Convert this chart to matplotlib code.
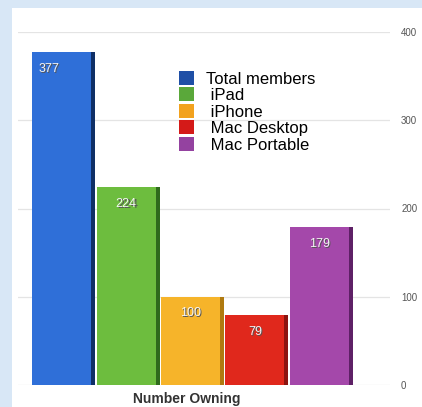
import matplotlib.pyplot as plt
from matplotlib.patches import Patch

plt.rcParams["font.family"] = ["Liberation Sans", "DejaVu Sans"]

# Datos
categories = ["Total members", "iPad", "iPhone", "Mac Desktop", "Mac Portable"]
values = [377, 224, 100, 79, 179]
yticks = [0, 100, 200, 300, 400]

face = ["#2f6fd8", "#6dbd3e", "#f6b42a", "#e0281c", "#a448aa"]
side = ["#0f2f66", "#2f6a1c", "#b07a10", "#8c1410", "#5e2066"]
legend_col = ["#1f4fa6", "#5aa83a", "#f2a21e", "#d41a18", "#9442a0"]

fig = plt.figure(figsize=(4.22, 4.07), dpi=100)
fig.patch.set_facecolor("#d8e7f6")

# panel blanco de fondo
bg = fig.add_axes([12 / 422, 0, 410 / 422, 1 - 8 / 407])
bg.set_facecolor("white")
bg.set_xticks([])
bg.set_yticks([])
for s in bg.spines.values():
    s.set_visible(False)
bg.set_zorder(0)

ax = fig.add_axes([18 / 422, 1 - 385 / 407, 372 / 422, 353 / 407])
ax.set_facecolor("none")
ax.set_zorder(1)

x = list(range(len(values)))
w = 0.92
# cara lateral oscura (efecto 3D)
ax.bar([i + 0.06 for i in x], values, width=w, color=side, zorder=2)
ax.bar(x, values, width=w, color=face, zorder=3)

for i, v in enumerate(values):
    xi = i - 0.2 if i == 0 else i
    ax.text(xi + 0.02, v - 13, str(v), ha="center", va="top", fontsize=9,
            color="#555555", zorder=4)
    ax.text(xi, v - 12, str(v), ha="center", va="top", fontsize=9,
            color="#f4f4f4", zorder=5)

ax.set_xlim(-0.68, 5.1)
ax.set_ylim(0, 400)
ax.set_yticks(yticks)
ax.yaxis.tick_right()
ax.tick_params(axis="y", length=0, pad=8, labelsize=7, labelcolor="#555555")
ax.set_xticks([])
ax.grid(axis="y", color="#e4e4e4", lw=0.9, zorder=1)
for s in ax.spines.values():
    s.set_visible(False)

handles = [Patch(facecolor=c, edgecolor="none") for c in legend_col]
labels = [categories[0]] + [" " + c for c in categories[1:]]
leg = fig.legend(handles, labels, loc="upper left", bbox_to_anchor=(164 / 422, 1 - 56 / 407),
                 bbox_transform=fig.transFigure, frameon=False, fontsize=12,
                 handlelength=0.9, handleheight=0.9, labelspacing=0.05, handletextpad=0.75)
leg.set_zorder(5)

fig.text(187 / 422, 1 - 399 / 407, "Number Owning", ha="center", va="center",
         fontsize=10, fontweight="bold", color="#333333", zorder=5)

fig.savefig("out.png", dpi=100)
